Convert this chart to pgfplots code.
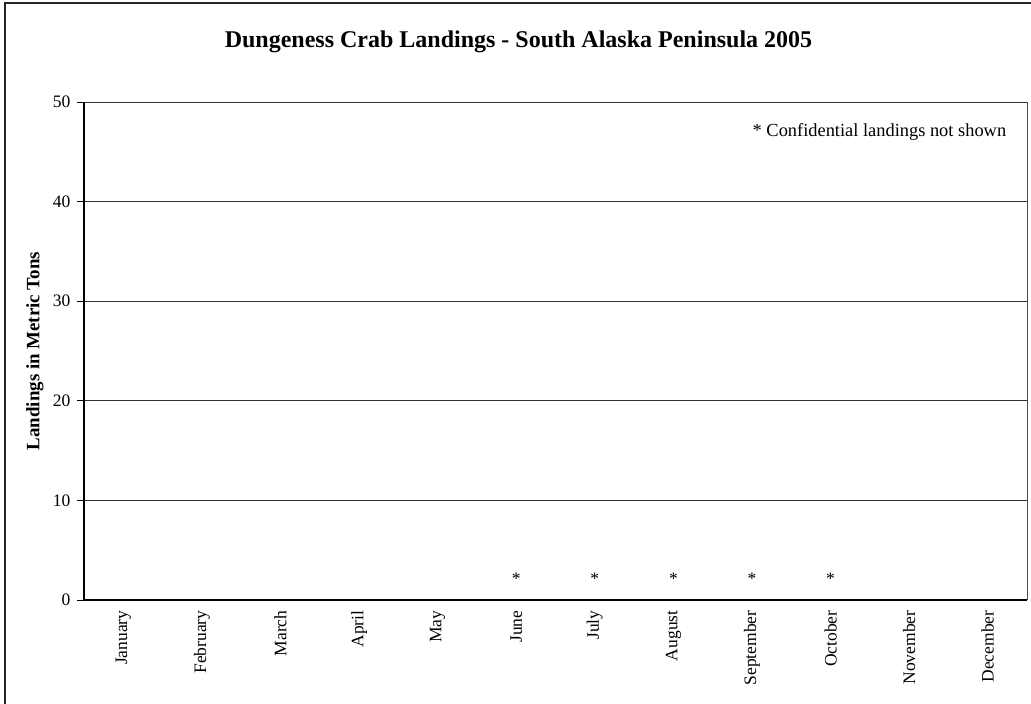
\documentclass[border=0pt]{standalone}
\usepackage{fontspec}
\setmainfont{Liberation Serif}
\usepackage{pgfplots}
\pgfplotsset{compat=1.18}
\begin{document}
\begin{tikzpicture}[x=1pt,y=1pt]
\useasboundingbox (0,0) rectangle (1031,704);
\draw[line width=1.6pt, black!85] (5,-30) -- (5,701) -- (1060,701);
\node[font=\bfseries\fontsize{24}{28}\selectfont] at (518.5,662) {Dungeness Crab Landings - South Alaska Peninsula 2005};
\node[font=\bfseries\fontsize{18.9}{22}\selectfont, rotate=90] at (35,353) {Landings in Metric Tons};
\begin{axis}[
  at={(84pt,104pt)}, anchor=south west,
  scale only axis, width=943pt, height=498pt,
  xmin=0, xmax=12, ymin=0, ymax=50,
  axis x line*=bottom, axis y line*=left,
  axis line style={line width=1.4pt, black, -},
  xtick={0.5,1.5,...,11.5},
  xticklabels={January,February,March,April,May,June,July,August,September,October,November,December},
  x tick label style={rotate=90, anchor=east, font=\fontsize{17.5}{20}\selectfont},
  xtick style={draw=none},
  minor xtick={0,1,...,12},
  minor x tick style={black, line width=0.8pt},
  minor tick length=6pt,
  ytick={0,10,...,50},
  y tick style={black, line width=0.8pt},
  major tick length=7pt,
  tick align=outside,
  y tick label style={font=\fontsize{17.5}{20}\selectfont, xshift=-3pt},
  /pgf/number format/assume math mode=true,
  ymajorgrids,
  grid style={black!80, line width=0.7pt},
  clip=false,
]
\draw[black!70, line width=0.8pt] (axis cs:12,0) -- (axis cs:12,50);
\addplot[draw=none, mark=none, nodes near coords={*},
  nodes near coords style={font=\fontsize{17.5}{20}\selectfont, anchor=center, yshift=21pt}]
  coordinates {(5.5,0) (6.5,0) (7.5,0) (8.5,0) (9.5,0)};
\node[anchor=east, font=\fontsize{18.4}{21}\selectfont] at (axis cs:11.78,47) {* Confidential landings not shown};
\end{axis}
\end{tikzpicture}
\end{document}
